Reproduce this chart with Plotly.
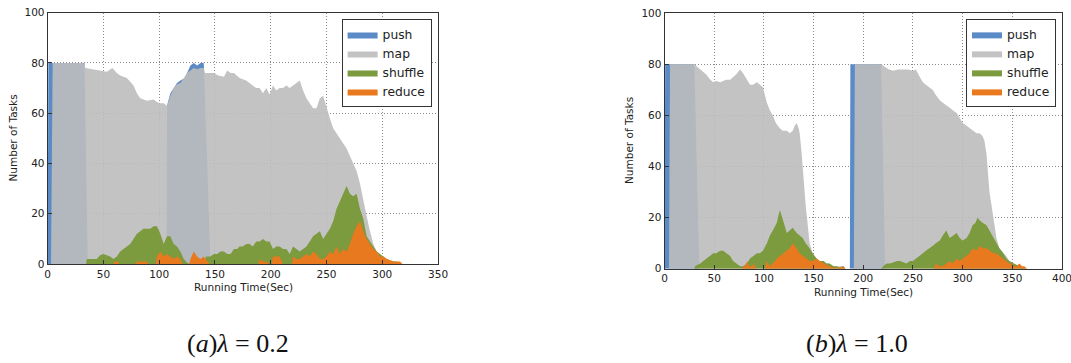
import plotly.graph_objects as go

# ---------------- (a) lambda = 0.2 ----------------
a_push_t = [0, 0.6, 33, 36, 106.5, 107, 110, 113, 116, 119, 123, 126, 128, 131, 134, 137, 140, 146]
a_push_v = [0, 80, 80, 0, 0, 63, 68, 70, 72, 73, 74, 77, 79, 80, 79, 80, 80, 0]

a_map_t = [0, 3, 4.5, 32, 34, 40, 47, 53, 58, 62, 65, 71, 77, 80, 83, 89, 95, 98, 101, 104, 107, 110,
           113, 116, 119, 122, 125, 128, 131, 134, 137, 140, 141, 145, 149, 153, 158, 161, 164, 167,
           172, 178, 184, 187, 190, 193, 196, 199, 202, 205, 208, 211, 214, 217, 220, 223, 226, 229,
           232, 235, 238, 241, 244, 247, 250, 253, 256, 259, 262, 265, 268, 271, 274, 277, 280, 283,
           286, 289, 292, 295, 298, 301, 304, 307, 310]
a_map_v = [0, 0, 80, 80, 78, 77.5, 77, 76.5, 78, 76, 75, 74, 71, 68, 66, 65, 65.5, 64.5, 64, 64, 63, 67,
           70, 71.5, 72, 74, 76, 77, 78, 77.5, 78, 78, 76, 76, 76, 75, 74.5, 77, 76, 76,
           74, 73, 71, 70, 70, 68, 70, 67.5, 71, 69, 70, 70, 71, 70, 71, 72, 73, 69,
           66, 64, 62, 62, 66, 67, 62, 58, 54, 52, 50, 48, 46, 43, 40, 37, 32, 25,
           19, 13, 8, 5, 3, 2, 1, 0.5, 0]

a_shuf_t = [34.5, 35, 44, 47, 50, 53, 56, 59, 62, 65, 68, 71, 74, 77, 80, 83, 86, 89, 92, 95, 98, 101,
            104, 107, 110, 113, 116, 119, 122, 125, 128, 140, 142, 146, 149, 152, 155, 158, 161, 164,
            167, 170, 172, 175, 178, 181, 184, 187, 190, 193, 196, 199, 202, 205, 208, 211, 214, 217,
            220, 223, 226, 229, 232, 235, 238, 241, 244, 247, 250, 253, 256, 259, 262, 265, 268, 271,
            274, 277, 280, 283, 286, 289, 292, 295, 298, 301, 304, 307, 310, 313, 316, 318]
a_shuf_v = [0, 2, 2, 3.5, 4, 3.5, 3, 2, 3, 5, 6, 7, 8, 10, 12, 13, 14, 14, 14, 15, 15, 12,
            8, 11, 11, 8, 7, 5, 2, 0.5, 0, 0, 3, 3, 4, 4, 5, 5, 4, 4,
            6, 6, 7, 7, 8, 8, 7, 9, 9, 10, 9, 9, 6, 7, 7, 6, 6, 4,
            7, 6, 5, 6, 7, 9, 11, 12, 13, 10, 12, 14, 17, 22, 25, 28, 31, 28,
            27, 28, 22, 18, 11, 9, 7, 5, 4, 3, 2, 1.5, 1, 1, 0.5, 0]

a_red_t = [59, 60, 63, 64, 79, 80, 89, 90, 97, 98, 101, 104, 107, 110, 113, 116, 119, 121, 127, 128,
           131, 134, 137, 140, 143, 145, 189, 190, 193, 196, 199, 201, 202, 205, 208, 210, 211, 219,
           220, 223, 226, 229, 232, 235, 238, 241, 244, 247, 250, 253, 256, 259, 262, 265, 268, 271,
           274, 277, 280, 283, 286, 289, 292, 295, 298, 301, 304, 307, 310, 313, 316, 318]
a_red_v = [0, 1, 1, 0, 0, 1, 1, 0, 0, 3, 5, 3, 4, 3, 2, 3, 2, 0, 0, 2,
           5, 3, 2, 3, 1, 0, 0, 2, 1, 1, 0, 0, 3, 3, 3, 1, 0, 0,
           3, 2, 2, 3, 4, 3, 5, 4, 2, 2, 3, 5, 4, 7, 4, 6, 5, 8,
           12, 15, 17, 13, 10, 8, 6, 5, 3, 3, 2, 1.5, 1, 1, 1, 0]

# ---------------- (b) lambda = 1.0 ----------------
b_push_t = [0, 0.6, 30, 35, 186.5, 187, 218, 222]
b_push_v = [0, 80, 80, 0, 0, 80, 80, 0]

b_map_t = [0, 4.5, 5.5, 30.7, 33, 36, 39, 42, 46, 49, 52, 56, 59, 62, 66, 69, 72, 76, 79, 83, 86, 89,
           93, 96, 99, 101, 103, 106, 109, 112, 116, 119, 123, 126, 129, 131, 133, 135, 136, 138, 139,
           142, 146, 149, 153, 156, 160, 163, 166, 170, 173, 176, 180, 182, 190.5, 191.5, 218, 222,
           226, 230, 235, 240, 245, 250, 253, 257, 260, 263, 267, 270, 273, 277, 280, 284, 287, 290,
           294, 297, 300, 304, 307, 310, 314, 317, 320, 322, 324, 326, 327, 329, 331, 334, 337, 341,
           344, 347, 351, 354, 357, 361, 365]
b_map_v = [0, 0, 80, 80, 79, 78, 77, 76, 74, 73, 73.5, 73, 73.5, 74, 74, 75, 76, 78, 76.5, 74, 72, 72,
           73, 72, 71, 68, 65, 62, 60, 57, 55, 54, 54, 53, 54, 56, 57, 55, 53, 45, 40,
           25, 10, 6, 4, 3, 3, 2, 2, 1, 1, 1, 1, 0, 0, 80, 80, 79,
           78, 77.5, 78, 78, 78, 77.5, 78, 75, 73, 72, 71, 70, 68, 66, 65, 64, 63, 62,
           61, 59, 57, 56, 55, 54, 53, 53, 52, 50, 45, 35, 30, 25, 20, 12, 8, 6,
           5, 3, 2, 1.5, 1, 0.5, 0]

b_shuf_t = [30, 30.7, 33, 36, 39, 42, 46, 49, 52, 56, 59, 62, 66, 69, 72, 76, 79, 83, 86, 89, 93, 96,
            99, 103, 106, 109, 113, 116, 118, 120, 123, 126, 129, 131, 133, 136, 139, 142, 146, 149,
            153, 156, 160, 163, 166, 170, 173, 176, 180, 182, 218, 220, 223.5, 227, 230, 234, 237, 240,
            243.5, 247, 250, 253, 257, 260, 263, 267, 270, 273, 277, 280, 283.5, 287, 290, 294, 297,
            300, 304, 307, 310, 313, 315, 317, 320, 324, 327, 331, 334, 337, 341, 344, 347, 351, 354,
            357, 361, 364]
b_shuf_v = [0, 1, 1.5, 2, 3, 4, 5, 6, 6, 7, 7, 6, 5, 3, 2, 1, 1, 2, 4, 5, 6, 6,
            7, 10, 13, 15, 18, 23, 20, 18, 14, 15, 16, 15, 14, 13, 12, 10, 8, 6,
            4, 3, 3, 2, 2, 1, 1, 0.5, 1, 0, 0, 1, 2, 2, 2.5, 3, 3, 2.5,
            2, 3, 3, 4, 5, 6, 7, 8, 9, 10, 11, 13, 15, 12, 13, 14, 12,
            11, 12, 14, 17, 18, 20, 19, 18, 17, 15, 12, 10, 8, 6, 4, 3, 2, 1.5,
            1, 0.5, 0]

b_red_t = [78, 79, 81, 83, 85, 88, 90, 92, 101, 103, 106, 109, 111, 113, 116, 119, 123, 126, 129, 131,
           133, 136, 139, 142, 146, 149, 153, 156, 160, 163, 166, 170, 173, 176, 180, 182, 271, 273,
           277, 280, 284, 287, 290, 294, 297, 300, 304, 307, 310, 314, 317, 320, 324, 327, 331, 334,
           337, 341, 344, 347, 349, 351, 354, 357, 360, 362, 365]
b_red_v = [0, 1, 1, 3, 1, 1, 2, 0, 0, 3, 1, 2, 3, 4, 5, 6, 7, 8, 10, 9,
           8, 6, 5, 4, 3, 3, 4, 3, 2, 1.5, 1, 0.5, 0.5, 0.5, 1, 0, 0, 2,
           1, 1, 2, 3, 2, 4, 3, 4, 5, 6, 8, 7, 9, 8, 8, 7, 6, 6,
           5, 4, 3, 2, 2, 1, 1, 2, 1, 1, 0]

series_names = ["push", "map", "shuffle", "reduce"]
fills = ["rgb(91,139,198)", "rgba(189,189,189,0.9)", "rgb(124,154,62)", "rgb(232,121,31)"]

panels = [
    ("x", "y", "legend", [(a_push_t, a_push_v), (a_map_t, a_map_v), (a_shuf_t, a_shuf_v), (a_red_t, a_red_v)]),
    ("x2", "y2", "legend2", [(b_push_t, b_push_v), (b_map_t, b_map_v), (b_shuf_t, b_shuf_v), (b_red_t, b_red_v)]),
]

fig = go.Figure()
for xa, ya, lg, data in panels:
    for name, fc, (t, v) in zip(series_names, fills, data):
        fig.add_trace(go.Scatter(
            x=t, y=v, name=name, mode="lines", fill="tozeroy", fillcolor=fc,
            line=dict(width=0, color=fc), xaxis=xa, yaxis=ya, legend=lg, hoverinfo="skip"))

font_main = "DejaVu Sans"
axis_common = dict(
    showline=True, linecolor="#333", linewidth=1, mirror=True,
    showgrid=True, gridcolor="#8a8a8a", griddash="1px,2px", gridwidth=1,
    ticks="inside", ticklen=4, tickcolor="#333", zeroline=False, automargin=False,
    ticklabeloverflow="allow",
    tickfont=dict(family=font_main, size=10.5, color="#222"),
)

fig.update_layout(
    width=1071, height=363,
    margin=dict(l=0, r=0, t=0, b=0),
    paper_bgcolor="white", plot_bgcolor="white",
    showlegend=True,
    xaxis=dict(domain=[0.0445, 0.409], range=[0, 350], dtick=50, anchor="y", **axis_common),
    yaxis=dict(domain=[0.2727, 0.965], range=[0, 100], dtick=20, anchor="x", **axis_common),
    xaxis2=dict(domain=[0.6205, 0.9916], range=[0, 400], dtick=50, anchor="y2", **axis_common),
    yaxis2=dict(domain=[0.2598, 0.9634], range=[0, 100], dtick=20, anchor="x2", **axis_common),
    legend=dict(x=0.403, y=0.948, xanchor="right", yanchor="top", bgcolor="white",
                bordercolor="#333", borderwidth=1, font=dict(family=font_main, size=12.3, color="#222"),
                tracegroupgap=0, itemwidth=30),
    legend2=dict(x=0.986, y=0.948, xanchor="right", yanchor="top", bgcolor="white",
                 bordercolor="#333", borderwidth=1, font=dict(family=font_main, size=12.3, color="#222"),
                 tracegroupgap=0, itemwidth=30),
)

ann_font = dict(family=font_main, size=10.5, color="#222")
annotations = [
    dict(text="Running Time(Sec)", x=243, y=287, showarrow=False, font=ann_font),
    dict(text="Running Time(Sec)", x=863, y=292, showarrow=False, font=ann_font),
    dict(text="Number of Tasks", x=12.5, y=138, textangle=-90, showarrow=False, font=ann_font),
    dict(text="Number of Tasks", x=629, y=141, textangle=-90, showarrow=False, font=ann_font),
    dict(text="(<i>a</i>)<i>λ</i> = 0.2", x=238, y=343, showarrow=False,
         font=dict(family="Liberation Serif", size=26, color="#111")),
    dict(text="(<i>b</i>)<i>λ</i> = 1.0", x=857, y=343, showarrow=False,
         font=dict(family="Liberation Serif", size=26, color="#111")),
]
for a in annotations:
    a["x"] = a["x"] / 1071
    a["y"] = 1 - a["y"] / 363
    a["xref"] = "paper"
    a["yref"] = "paper"
    a["xanchor"] = "center"
    a["yanchor"] = "middle"
fig.update_layout(annotations=annotations)

fig.write_html("out.html", config={"displayModeBar": False},
               post_script="document.body.style.margin='0';document.body.style.overflow='hidden';")
